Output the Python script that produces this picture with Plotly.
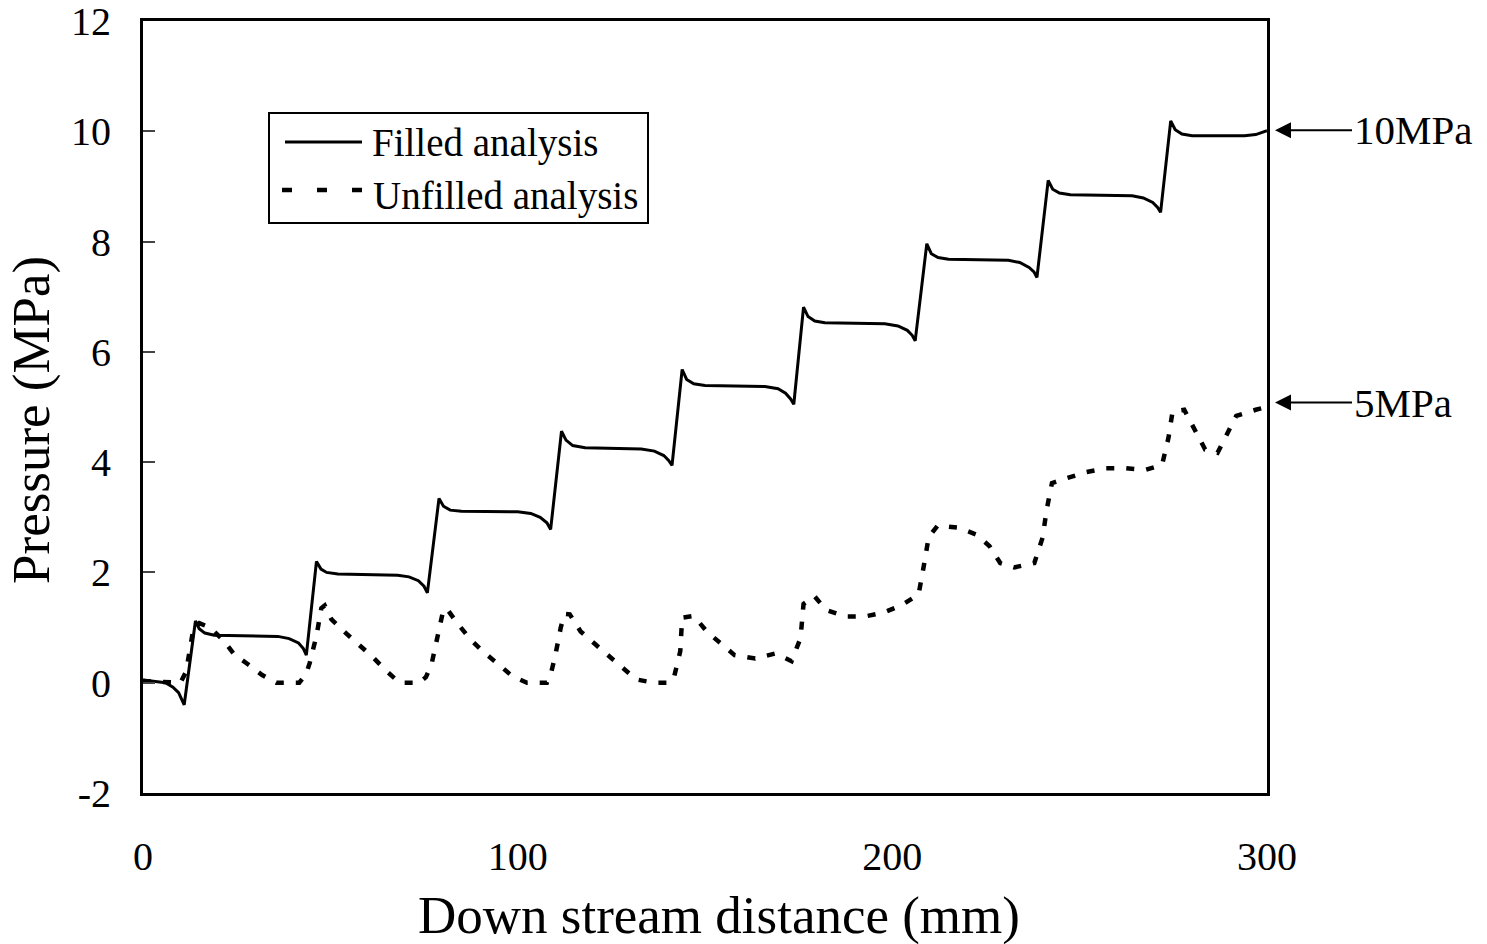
import plotly.graph_objects as go

# ---- data ----
filled_x = [0, 3, 6, 8, 9.5, 11,
            14, 15, 16.5, 19, 25, 36, 39, 41.5, 42.8, 43.6,
            46.3, 47.5, 49, 52, 68, 71, 73.5, 75, 75.9,
            79, 80.2, 82, 85, 100, 103.5, 106, 107.8, 108.8,
            111.7, 112.9, 114.7, 118, 133, 136.5, 139, 140.3, 141.2,
            143.9, 145.1, 147, 150, 166, 169.5, 171.5, 172.8, 173.7,
            176.3, 177.5, 179.3, 182, 198, 201.5, 204, 205.3, 206.1,
            209.2, 210.4, 212.2, 215, 231, 234, 236.5, 237.8, 238.6,
            241.6, 242.8, 244.6, 247.5, 264, 267, 269.5, 270.8, 271.6,
            274.3, 275.5, 277.3, 280, 294, 297, 299, 300]
filled_y = [0.05, 0.02, 0.0, -0.08, -0.18, -0.4,
            1.12, 0.98, 0.9, 0.86, 0.85, 0.84, 0.8, 0.72, 0.62, 0.5,
            2.2, 2.06, 2.0, 1.97, 1.95, 1.92, 1.85, 1.75, 1.63,
            3.34, 3.2, 3.13, 3.11, 3.1, 3.07, 3.0, 2.9, 2.78,
            4.56, 4.4, 4.3, 4.26, 4.24, 4.2, 4.12, 4.03, 3.94,
            5.68, 5.5, 5.42, 5.39, 5.37, 5.33, 5.25, 5.15, 5.05,
            6.81, 6.64, 6.56, 6.53, 6.51, 6.47, 6.39, 6.3, 6.2,
            7.96, 7.78, 7.71, 7.68, 7.66, 7.62, 7.53, 7.45, 7.35,
            9.11, 8.95, 8.88, 8.85, 8.83, 8.79, 8.71, 8.62, 8.53,
            10.19, 10.03, 9.95, 9.92, 9.92, 9.94, 9.98, 10.01]

unfilled_x = [0, 3, 6.3, 10, 11.5, 12.5, 13.5, 15, 17.9, 21.3, 24.4, 28.1, 31.8, 35.6,
              41.7, 43.5, 44.5, 46.3, 47.6, 48.5, 50.3, 54.3, 57.9, 61.4, 65, 68.5,
              73.7, 75.5, 77, 78.6, 80.1, 81, 84.1, 87.5, 90.8, 94.6, 98.5, 102.5,
              107.8, 109, 110, 111.5, 112.5, 113.9, 116.8, 120.5, 124.5, 128.3, 131.6, 136.3,
              140.5, 141.7, 143.4, 143.9, 147, 150.6, 154.5, 157.9, 163.4, 168.8, 173.1,
              175.5, 176.3, 179.2, 182.3, 187.5, 192.5, 197.6, 202.6, 207,
              208.3, 209.7, 212.1, 217.7, 222.3, 225.9, 228.8, 232.5, 237.9,
              240.1, 241.2, 242.6, 246.6, 251.8, 257, 262.3, 267.6, 272,
              273.7, 274.8, 277.9, 280.8, 283.5, 286.8, 289.4, 291.8, 297, 300]
unfilled_y = [0.03, 0.02, 0.0, 0.0, 0.2, 0.6, 1.0, 1.08, 1.0, 0.78, 0.51, 0.33, 0.14, 0.0,
              0.0, 0.15, 0.36, 0.85, 1.35, 1.4, 1.15, 0.89, 0.68, 0.46, 0.21, 0.0,
              0.0, 0.1, 0.33, 0.82, 1.3, 1.35, 1.06, 0.78, 0.56, 0.35, 0.12, 0.0,
              0.0, 0.2, 0.48, 1.0, 1.25, 1.24, 0.93, 0.71, 0.48, 0.26, 0.06, 0.0,
              0.0, 0.09, 0.57, 1.18, 1.21, 0.92, 0.69, 0.5, 0.44, 0.53, 0.39,
              0.81, 1.43, 1.57, 1.32, 1.2, 1.2, 1.27, 1.41, 1.6,
              2.08, 2.64, 2.85, 2.81, 2.69, 2.48, 2.17, 2.09, 2.17,
              2.63, 3.14, 3.62, 3.71, 3.82, 3.89, 3.89, 3.86, 3.95,
              4.44, 4.92, 4.95, 4.59, 4.23, 4.17, 4.54, 4.84, 4.95, 5.0]

series_names = ["Filled analysis", "Unfilled analysis"]
x_ticks = [0, 100, 200, 300]
x_tick_text = ["0", "100", "200", "300"]
y_ticks = [-2, 0, 2, 4, 6, 8, 10, 12]
y_tick_text = ["-2", "0", "2", "4", "6", "8", "10", "12"]
marker_labels = ["10MPa", "5MPa"]
marker_values = [10.02, 5.08]

FONT = "Liberation Serif, Times New Roman, serif"

fig = go.Figure()
fig.add_trace(go.Scatter(x=filled_x, y=filled_y, mode="lines", name=series_names[0],
                         line=dict(color="black", width=3), showlegend=False))
fig.add_trace(go.Scatter(x=unfilled_x, y=unfilled_y, mode="lines", name=series_names[1],
                         line=dict(color="black", width=4.5, dash="8px,12px"), showlegend=False))

W, H = 1487, 944
L, R, T, B = 143, 1267, 21, 793
pw, ph = R - L, B - T

def px(xp):
    return (xp - L) / pw

def py(yp):
    return (B - yp) / ph

fig.update_layout(
    width=W, height=H,
    margin=dict(l=L, r=W - R, t=T, b=H - B, autoexpand=False),
    paper_bgcolor="white", plot_bgcolor="white",
    font=dict(family=FONT, color="black", size=39),
    xaxis=dict(range=[0, 300], tickvals=x_ticks, ticktext=x_tick_text, ticks="",
               showgrid=False, zeroline=False, automargin=False,
               showline=True, linecolor="black", linewidth=3, mirror=True,
               tickfont=dict(family=FONT, size=40), ticklabelstandoff=26,
               ticklabeloverflow="allow"),
    yaxis=dict(range=[-2.0001, 12.0001], tickvals=y_ticks, ticktext=y_tick_text,
               ticks="inside", ticklen=12, tickwidth=2, automargin=False,
               tickcolor="#444", showgrid=False, zeroline=False,
               showline=True, linecolor="black", linewidth=3, mirror=True,
               tickfont=dict(family=FONT, size=40), ticklabelstandoff=21,
               ticklabeloverflow="allow"),
)

annotations = [
    dict(text="Down stream distance (mm)", xref="paper", yref="paper",
         x=px(719), y=py(915), xanchor="center", yanchor="middle", showarrow=False,
         font=dict(family=FONT, size=53)),
    dict(text="Pressure (MPa)", xref="paper", yref="paper", textangle=-90,
         x=px(31), y=py(420), xanchor="center", yanchor="middle", showarrow=False,
         font=dict(family=FONT, size=53)),
    # legend texts
    dict(text=series_names[0], xref="paper", yref="paper", x=px(370), y=py(143),
         xanchor="left", yanchor="middle", showarrow=False, font=dict(family=FONT, size=39)),
    dict(text=series_names[1], xref="paper", yref="paper", x=px(371), y=py(196),
         xanchor="left", yanchor="middle", showarrow=False, font=dict(family=FONT, size=39)),
]
for lab, val in zip(marker_labels, marker_values):
    annotations.append(dict(text=lab, xref="paper", yref="y", x=px(1275), y=val,
                            ax=77, ay=0, xanchor="left", yanchor="middle",
                            showarrow=True, arrowhead=2, arrowsize=1.6, arrowwidth=2,
                            arrowcolor="black", font=dict(family=FONT, size=41)))
fig.update_layout(annotations=annotations)

shapes = [
    dict(type="rect", xref="paper", yref="paper", x0=px(269), x1=px(648), y0=py(223), y1=py(113),
         line=dict(color="black", width=2), fillcolor="white", layer="above"),
    dict(type="line", xref="paper", yref="paper", x0=px(285), x1=px(362), y0=py(142), y1=py(142),
         line=dict(color="black", width=3), layer="above"),
    dict(type="line", xref="paper", yref="paper", x0=px(282), x1=px(364), y0=py(190), y1=py(190),
         line=dict(color="black", width=4.5, dash="10px,25px"), layer="above"),
]
fig.update_layout(shapes=shapes)

fig.write_html("out.html")
